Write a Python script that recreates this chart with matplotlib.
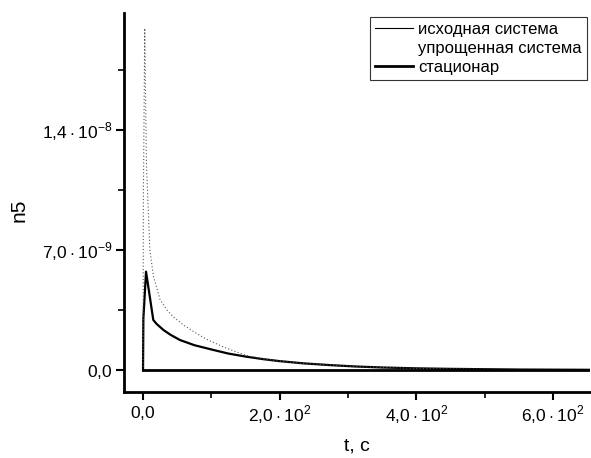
import matplotlib.pyplot as plt
from matplotlib.ticker import MultipleLocator

plt.rcParams['font.family'] = ['Liberation Sans', 'DejaVu Sans']
plt.rcParams['mathtext.fontset'] = 'custom'
plt.rcParams['mathtext.rm'] = 'Liberation Sans'

# simplified system (dotted), values in 1e-9
t_simple = [0, 0.5, 2.5, 5, 10, 15, 25, 35, 44, 60, 78, 95, 117, 135, 151, 175, 200,
            235, 273, 310, 350, 400, 450, 550, 654]
n_simple = [0, 10, 19.9, 12, 7.0, 5.5, 4.1, 3.5, 3.1, 2.6, 2.14, 1.75, 1.36, 1.08, 0.85,
            0.66, 0.52, 0.39, 0.29, 0.21, 0.15, 0.1, 0.07, 0.03, 0.015]

# original system (solid), values in 1e-9
t_orig = [0, 0.5, 4.4, 15, 20, 30, 40, 54, 75, 103, 125, 151, 175, 200, 235, 273, 310,
          350, 400, 450, 550, 654]
n_orig = [0, 3.0, 5.73, 2.92, 2.68, 2.33, 2.06, 1.75, 1.45, 1.17, 0.96, 0.78, 0.64, 0.52,
          0.39, 0.29, 0.21, 0.15, 0.1, 0.07, 0.03, 0.015]

# stationary (thick)
t_stat = [0, 654]
n_stat = [0, 0]

xticks = [0, 200, 400, 600]
xlabels = [r'$0{,}0$', r'$2{,}0\cdot10^2$', r'$4{,}0\cdot10^2$', r'$6{,}0\cdot10^2$']
yticks = [0, 7e-9, 1.4e-8]
ylabels = [r'$0{,}0$', r'$7{,}0\cdot10^{-9}$', r'$1{,}4\cdot10^{-8}$']

scale = 1e-9

fig = plt.figure(figsize=(5.91, 4.58), dpi=100)
ax = fig.add_axes([0.21, 0.144, 0.788, 0.828])

ax.plot(t_orig, [v * scale for v in n_orig], color='black', lw=1.6, label='исходная система')
ax.plot(t_simple, [v * scale for v in n_simple], color='#555555', lw=0.8, ls=(0, (1, 2)),
        label='упрощенная система')
ax.plot(t_stat, n_stat, color='black', lw=2.0, label='стационар')

ax.set_xlim(-27.7, 654)
ax.set_ylim(-1.28e-9, 2.08e-8)

ax.set_xticks(xticks)
ax.set_xticklabels(xlabels)
ax.set_yticks(yticks)
ax.set_yticklabels(ylabels)
ax.xaxis.set_minor_locator(MultipleLocator(100))
ax.yaxis.set_minor_locator(MultipleLocator(3.5e-9))

ax.tick_params(which='major', direction='out', length=6, width=1.5, labelsize=12.5, pad=2.5)
ax.tick_params(which='minor', direction='out', length=4, width=1.2)

for s in ['top', 'right']:
    ax.spines[s].set_visible(False)
for s in ['left', 'bottom']:
    ax.spines[s].set_linewidth(2)

ax.set_xlabel('t, c', fontsize=14)
ax.set_ylabel('n5', fontsize=15)
ax.xaxis.set_label_coords(0.5, -0.12)
ax.yaxis.set_label_coords(-0.205, 0.48)

labels = ax.get_legend_handles_labels()[1]
h1 = plt.Line2D([], [], color='black', lw=0.8)
h2 = plt.Line2D([], [], color='white', lw=0.8)
h3 = plt.Line2D([], [], color='black', lw=2.0)
leg = ax.legend([h1, h2, h3], labels, loc='upper right', bbox_to_anchor=(0.993, 0.99),
                fontsize=12, frameon=True, fancybox=False, handlelength=2.3,
                handletextpad=0.3, borderpad=0.3, labelspacing=0.25, borderaxespad=0)
leg.get_frame().set_edgecolor('black')
leg.get_frame().set_linewidth(0.8)

fig.savefig('out.png', dpi=100)
